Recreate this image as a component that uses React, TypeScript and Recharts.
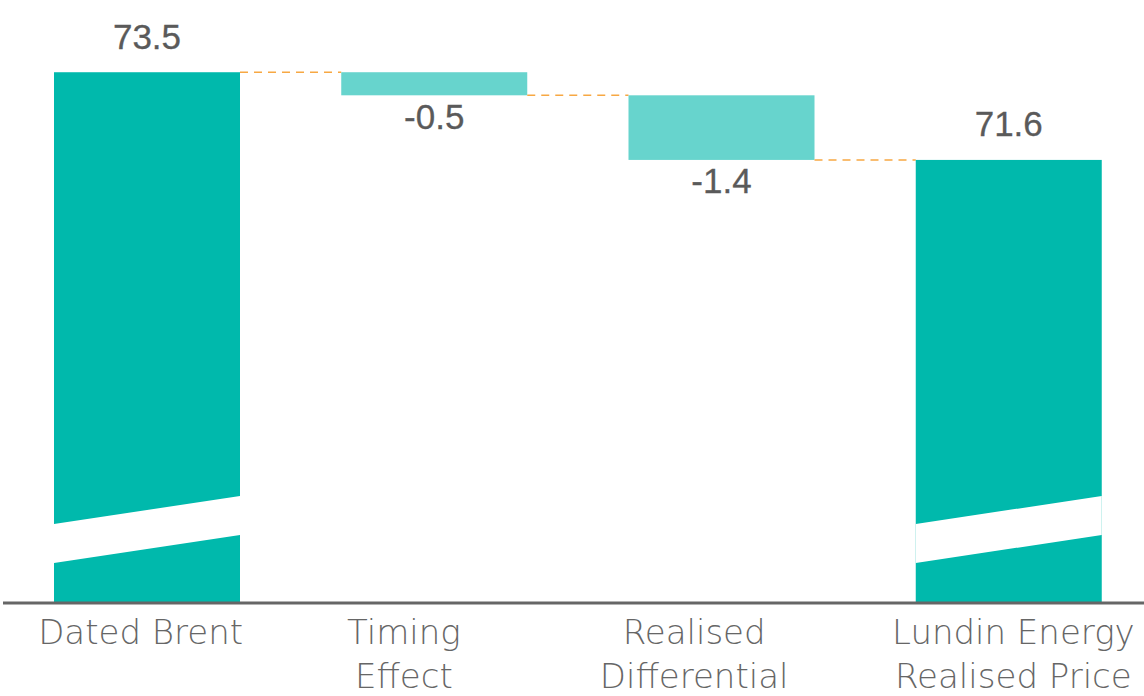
import React from 'react';
import { BarChart, Bar, XAxis, YAxis, LabelList } from 'recharts';

// waterfall data
const categories = ['Dated Brent', 'Timing\nEffect', 'Realised\nDifferential', 'Lundin Energy\nRealised Price'];
const values = [73.5, -0.5, -1.4, 71.6];
const isTotal = [true, false, false, true];
const valueLabels = ['73.5', '-0.5', '-1.4', '71.6'];

const Y_MIN = 62;
const Y_MAX = 75;

const W = 1152;
const H = 696;
const MARGIN = { top: 3, right: 0, left: 3, bottom: 0 };
const BAND = (W - MARGIN.left - MARGIN.right) / categories.length;
const BAR_W = 186;
// small horizontal nudges of the category labels, as in the original slide
const TICK_DX = [-6, -30, -27, 5];

const TOTAL_COLOR = '#00B9AC';
const DELTA_COLOR = '#67D4CD';
const LINK_COLOR = '#F7A843';
const TEXT_COLOR = '#5A5A5A';

let running = 0;
const data = categories.map((name, i) => {
  let range: [number, number];
  if (isTotal[i]) {
    range = [Y_MIN, values[i]];
    running = values[i];
  } else {
    const next = running + values[i];
    range = [Math.min(running, next), Math.max(running, next)];
    running = next;
  }
  return { name, range, label: valueLabels[i] };
});

const BarShape = (props: any) => {
  const { x, y, width, height, index } = props;
  const total = isTotal[index];
  const bottom = y + height;
  const endY = total || values[index] > 0 ? y : bottom;
  return (
    <g>
      <rect x={x} y={y} width={width} height={height} fill={total ? TOTAL_COLOR : DELTA_COLOR} />
      {total && (
        <polygon
          points={`${x},${bottom - 79} ${x + width},${bottom - 107} ${x + width},${bottom - 68} ${x},${bottom - 40}`}
          fill="#fff"
        />
      )}
      {index < categories.length - 1 && (
        <line
          x1={x + width}
          x2={x + BAND}
          y1={endY}
          y2={endY}
          stroke={LINK_COLOR}
          strokeWidth={1.5}
          strokeDasharray="8 6"
        />
      )}
    </g>
  );
};

const ValueLabel = (props: any) => {
  const { x, y, width, height, index, value } = props;
  const above = isTotal[index] || values[index] > 0;
  const ty = above ? y - 36 : y + height + 21;
  return (
    <text
      x={x + width / 2}
      y={ty}
      textAnchor="middle"
      dominantBaseline="central"
      fontFamily="'Liberation Sans', Arial, sans-serif"
      fontSize={35}
      fill={TEXT_COLOR}
      stroke={TEXT_COLOR}
      strokeWidth={0.3}
    >
      {value}
    </text>
  );
};

const CategoryTick = (props: any) => {
  const { x, y, payload, index } = props;
  const lines = String(payload.value).split('\n');
  const dx = TICK_DX[index] ?? 0;
  return (
    <g>
      {lines.map((line, i) => (
        <text
          key={i}
          x={x + dx}
          y={y + 41 + i * 44}
          textAnchor="middle"
          fontFamily="'DejaVu Sans', sans-serif"
          fontWeight={300}
          fontSize={34}
          fill="#666"
        >
          {line}
        </text>
      ))}
    </g>
  );
};

export default function App() {
  return (
    <div style={{ position: 'absolute', left: 0, top: 0, width: 1144, height: H, overflow: 'hidden', background: '#fff' }}>
      <BarChart width={W} height={H} data={data} margin={MARGIN} barSize={BAR_W}>
        <XAxis
          dataKey="name"
          height={93}
          tickLine={false}
          tickSize={0}
          tickMargin={0}
          axisLine={{ stroke: '#666', strokeWidth: 3 }}
          tick={<CategoryTick />}
          interval={0}
        />
        <YAxis hide domain={[Y_MIN, Y_MAX]} allowDataOverflow />
        <Bar dataKey="range" shape={<BarShape />} isAnimationActive={false}>
          <LabelList dataKey="label" content={<ValueLabel />} />
        </Bar>
      </BarChart>
    </div>
  );
}
